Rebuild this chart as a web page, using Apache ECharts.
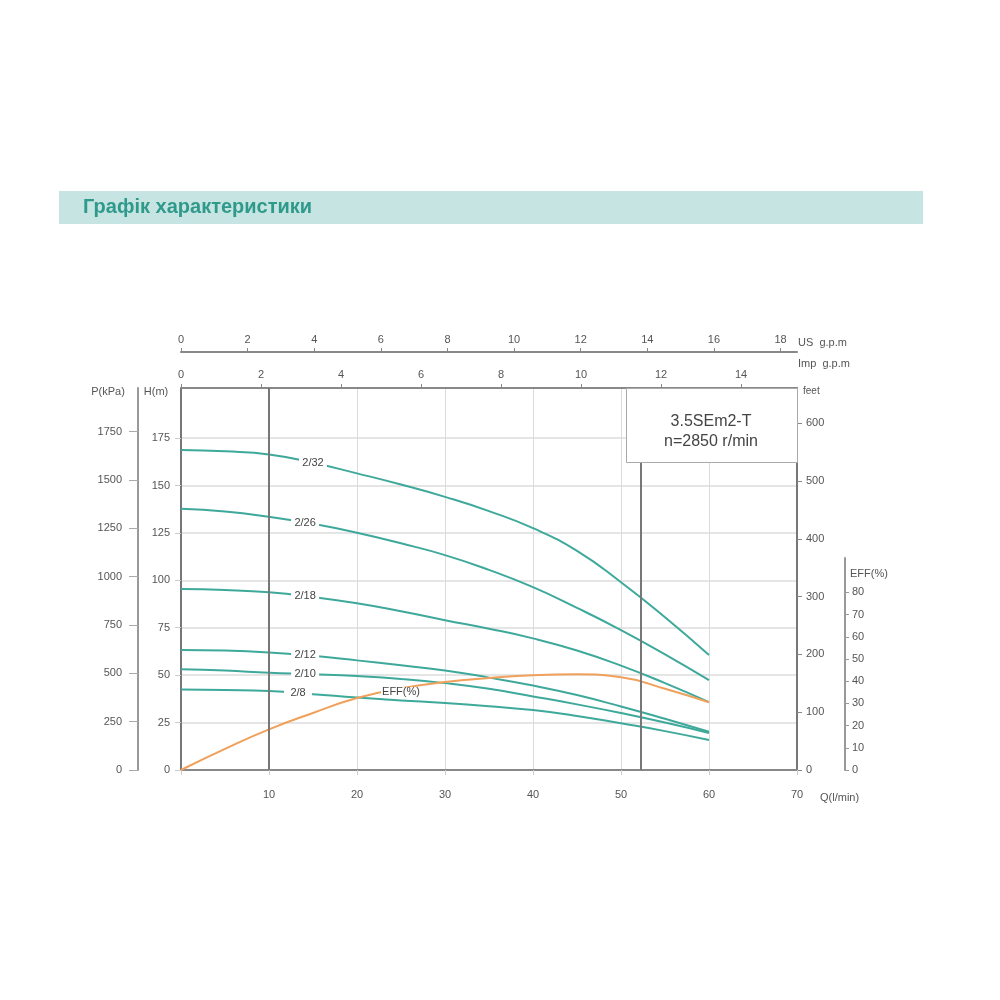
<!DOCTYPE html>
<html>
<head>
<meta charset="utf-8">
<script src="https://cdn.jsdelivr.net/npm/echarts@6/dist/echarts.min.js"></script>
<style>
	html, body { margin: 0; padding: 0; background: #fff; }
	#chart { width: 1000px; height: 1000px; }
</style>
</head>
<body>
<div id="chart"></div>
<script>
// flow points (l/min) and head (m)
var flowQ = [0, 5, 10, 15, 20, 25, 30, 35, 40, 45, 50, 55, 60];
var head2_32 = [168.7, 168.0, 166.4, 162, 156.4, 150.5, 144, 136.5, 127.5, 115.5, 99, 80.5, 60.6];
var head2_26 = [137.7, 136.3, 133.5, 129.8, 125.1, 119.5, 113.3, 105.5, 96.4, 85.5, 73.8, 61, 47.4];
var head2_18 = [95.4, 94.9, 93.7, 91.2, 87.9, 83.7, 79, 74.5, 69.4, 63, 55, 45.8, 35.8];
var head2_12 = [63.3, 63.0, 62, 60.2, 57.8, 55.2, 52.5, 48.7, 44.5, 39.5, 33.5, 27, 20.2];
var head2_10 = [53.1, 52.4, 51.3, 50.5, 49.5, 48, 45.8, 42.8, 38.8, 34.6, 30, 25, 19.5];
var head2_8 = [42.5, 42.2, 41.6, 40, 38.2, 36.7, 35.3, 33.6, 31.6, 28.5, 24.6, 20.5, 15.8];

// efficiency curve
var effQ = [0, 5, 10, 15, 20, 25, 30, 35, 40, 45, 50, 55, 60];
var effPct = [0, 9.5, 18.3, 25.7, 32.4, 36.8, 39.6, 41.4, 42.7, 43.1, 41.8, 36.6, 30.5];

// curve names and where their labels sit (Q)
var curveNames = ['2/32', '2/26', '2/18', '2/12', '2/10', '2/8'];
var labelQ = [15, 14.1, 14.1, 14.1, 14.1, 13.3];
var effLabelQ = 25;

// dark vertical lines (recommended range)
var dutyLimits = [10, 52.2];

// tick label values
var qTicks = [10, 20, 30, 40, 50, 60, 70];
var hTicks = [0, 25, 50, 75, 100, 125, 150, 175];
var effTicks = [0, 10, 20, 30, 40, 50, 60, 70, 80];

var _consts = {
	Q_MAX: 70,
	H_MAX: 201.4,
	EFF_MAX: 172.1,
	EFF_AXIS_MAX: 95.5,
	US_GPM: 3.785,
	IMP_GPM: 4.546,
	FT: 0.3048,
	KPA: 9.81,
	TEAL: '#3ea99b',
	ORANGE: '#f0a05a',
	FONT: 'Liberation Sans, Arial, sans-serif',
	TXT: '#555'
};

function valueAt(xs, ys, x) {
	for (var i = 0; i < xs.length - 1; i++) {
		if (x >= xs[i] && x <= xs[i + 1]) {
			var t = (x - xs[i]) / (xs[i + 1] - xs[i]);
			return ys[i] + t * (ys[i + 1] - ys[i]);
		}
	}
	return ys[ys.length - 1];
}

function pairs(xs, ys) {
	var out = [];
	for (var i = 0; i < xs.length; i++) out.push([xs[i], ys[i]]);
	return out;
}

function plain(v) {
	return String(v);
}

var heads = [head2_32, head2_26, head2_18, head2_12, head2_10, head2_8];

var series = [];
for (var i = 0; i < heads.length; i++) {
	var s = {
		name: curveNames[i],
		type: 'line',
		xAxisIndex: 0,
		yAxisIndex: 0,
		smooth: 0.5,
		showSymbol: false,
		silent: true,
		lineStyle: { color: _consts.TEAL, width: 2 },
		data: pairs(flowQ, heads[i]),
		markPoint: {
			silent: true,
			symbol: 'rect',
			symbolSize: [28, 12],
			itemStyle: { color: '#fff' },
			label: { show: true, formatter: '{b}', color: '#444', fontSize: 11, fontFamily: _consts.FONT },
			data: [{ name: curveNames[i], coord: [labelQ[i], valueAt(flowQ, heads[i], labelQ[i])] }]
		}
	};
	if (i === 0) {
		s.markLine = {
			silent: true,
			symbol: 'none',
			label: { show: false },
			lineStyle: { color: '#777', width: 2, type: 'solid' },
			data: dutyLimits.map(function(q) { return { xAxis: q }; })
		};
	}
	series.push(s);
}

series.push({
	name: 'EFF(%)',
	type: 'line',
	xAxisIndex: 0,
	yAxisIndex: 3,
	smooth: 0.5,
	showSymbol: false,
	silent: true,
	z: 3,
	lineStyle: { color: _consts.ORANGE, width: 2 },
	data: pairs(effQ, effPct),
	markPoint: {
		silent: true,
		symbol: 'rect',
		symbolSize: [40, 10],
		symbolOffset: [0, 4],
		itemStyle: { color: '#fff' },
		label: { show: true, formatter: '{b}', color: '#444', fontSize: 11, fontFamily: _consts.FONT },
		data: [{ name: 'EFF(%)', coord: [effLabelQ, valueAt(effQ, effPct, effLabelQ)] }]
	}
});

var axisText = { color: _consts.TXT, fontSize: 11, fontFamily: _consts.FONT };

var option = {
	animation: false,
	backgroundColor: '#fff',
	grid: [
		{ left: 181, top: 388, width: 616, height: 382 },
		{ left: 844, top: 558, width: 1, height: 212 }
	],
	xAxis: [
		{
			type: 'value', gridIndex: 0, position: 'bottom', min: 0, max: _consts.Q_MAX, interval: 10,
			axisLine: { onZero: false, lineStyle: { color: '#888', width: 2 } },
			axisTick: { show: true, length: 5, lineStyle: { color: '#ccc' } },
			axisLabel: Object.assign({ margin: 19, customValues: qTicks }, axisText),
			splitLine: { show: true, lineStyle: { color: '#dcdcdc', width: 1 } }
		},
		{
			type: 'value', gridIndex: 0, position: 'top', min: 0, max: _consts.Q_MAX / _consts.IMP_GPM, interval: 2,
			axisLine: { show: true, onZero: false, lineStyle: { color: '#888', width: 2 } },
			axisTick: { show: true, length: 4, lineStyle: { color: '#888' } },
			axisLabel: Object.assign({ margin: 8 }, axisText),
			splitLine: { show: false }
		},
		{
			type: 'value', gridIndex: 0, position: 'top', offset: 36, min: 0, max: _consts.Q_MAX / _consts.US_GPM, interval: 2,
			axisLine: { show: true, onZero: false, lineStyle: { color: '#888', width: 2 } },
			axisTick: { show: true, length: 4, lineStyle: { color: '#888' } },
			axisLabel: Object.assign({ margin: 7 }, axisText),
			splitLine: { show: false }
		},
		{ type: 'value', gridIndex: 1, show: false, min: 0, max: 1 }
	],
	yAxis: [
		{
			type: 'value', gridIndex: 0, position: 'left', min: 0, max: _consts.H_MAX, interval: 25,
			axisLine: { show: true, onZero: false, lineStyle: { color: '#777', width: 2 } },
			axisTick: { show: true, length: 6, customValues: hTicks, lineStyle: { color: '#ccc' } },
			axisLabel: Object.assign({ margin: 11, customValues: hTicks }, axisText),
			splitLine: { show: true, lineStyle: { color: '#dcdcdc', width: 1.5 } }
		},
		{
			type: 'value', gridIndex: 0, position: 'left', offset: 43, min: 0, max: _consts.H_MAX * _consts.KPA, interval: 250,
			axisLine: { show: true, onZero: false, lineStyle: { color: '#999', width: 2 } },
			axisTick: { show: true, length: 9, lineStyle: { color: '#aaa' } },
			axisLabel: Object.assign({ margin: 16, showMaxLabel: false, formatter: plain }, axisText),
			splitLine: { show: false }
		},
		{
			type: 'value', gridIndex: 0, position: 'right', min: 0, max: _consts.H_MAX / _consts.FT, interval: 100,
			axisLine: { show: true, onZero: false, lineStyle: { color: '#777', width: 2 } },
			axisTick: { show: true, length: 5, lineStyle: { color: '#888' } },
			axisLabel: Object.assign({ margin: 9, showMaxLabel: false, formatter: plain }, axisText),
			splitLine: { show: false }
		},
		{ type: 'value', gridIndex: 0, show: false, min: 0, max: _consts.EFF_MAX },
		{
			type: 'value', gridIndex: 1, position: 'right', min: 0, max: _consts.EFF_AXIS_MAX, interval: 10,
			axisLine: { show: true, onZero: false, lineStyle: { color: '#999', width: 2 } },
			axisTick: { show: true, length: 4, customValues: effTicks, lineStyle: { color: '#999' } },
			axisLabel: Object.assign({ margin: 7, customValues: effTicks }, axisText),
			splitLine: { show: false }
		}
	],
	graphic: [
		// header band
		{ type: 'rect', left: 59, top: 191, shape: { width: 864, height: 33 }, style: { fill: '#c6e4e1' }, z: 1 },
		{ type: 'text', left: 83, top: 197, style: { text: 'Графік характеристики', fill: '#2f9a8c', font: 'bold 20px ' + _consts.FONT }, z: 2 },
		// model box
		{ type: 'rect', left: 626, top: 388, shape: { width: 171, height: 74 }, style: { fill: '#fff', stroke: '#aaa', lineWidth: 1 }, z: 50 },
		{ type: 'text', x: 711, y: 422, style: { text: '3.5SEm2-T', fill: '#444', font: '16px ' + _consts.FONT, align: 'center', verticalAlign: 'middle' }, z: 51 },
		{ type: 'text', x: 711, y: 442, style: { text: 'n=2850 r/min', fill: '#444', font: '16px ' + _consts.FONT, align: 'center', verticalAlign: 'middle' }, z: 51 },
		// axis names
		{ type: 'text', x: 108, y: 392, style: { text: 'P(kPa)', fill: _consts.TXT, font: '11px ' + _consts.FONT, align: 'center', verticalAlign: 'middle' } },
		{ type: 'text', x: 156, y: 392, style: { text: 'H(m)', fill: _consts.TXT, font: '11px ' + _consts.FONT, align: 'center', verticalAlign: 'middle' } },
		{ type: 'text', x: 803, y: 391, style: { text: 'feet', fill: _consts.TXT, font: '10px ' + _consts.FONT, verticalAlign: 'middle' } },
		{ type: 'text', x: 798, y: 343, style: { text: 'US  g.p.m', fill: _consts.TXT, font: '11px ' + _consts.FONT, verticalAlign: 'middle' } },
		{ type: 'text', x: 798, y: 364, style: { text: 'Imp  g.p.m', fill: _consts.TXT, font: '11px ' + _consts.FONT, verticalAlign: 'middle' } },
		{ type: 'text', x: 850, y: 574, style: { text: 'EFF(%)', fill: _consts.TXT, font: '11px ' + _consts.FONT, verticalAlign: 'middle' } },
		{ type: 'text', x: 820, y: 798, style: { text: 'Q(l/min)', fill: _consts.TXT, font: '11px ' + _consts.FONT, verticalAlign: 'middle' } }
	],
	series: series
};

var myChart = echarts.init(document.getElementById('chart'));
myChart.setOption(option);
</script>
</body>
</html>
